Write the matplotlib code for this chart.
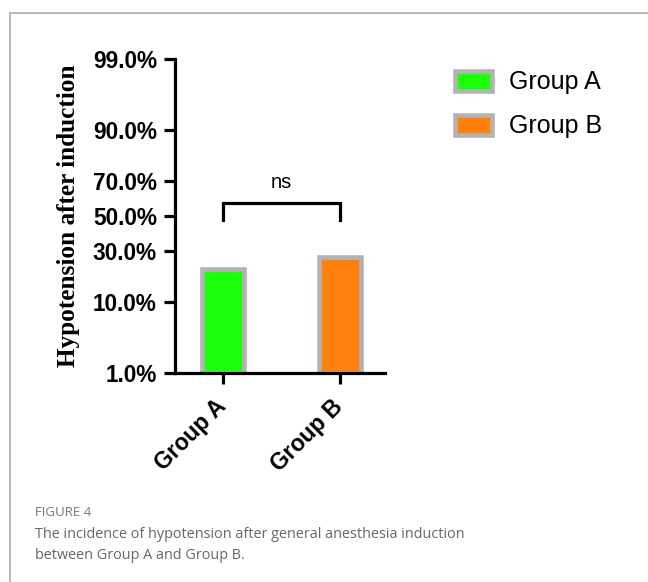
import math
import numpy as np
import matplotlib
matplotlib.use("Agg")
import matplotlib.pyplot as plt
from matplotlib.lines import Line2D

# data
groups = ["Group A", "Group B"]
incidence = [21.7, 27.3]          # percent
bar_colors = ["#1aff0a", "#ff800d"]
y_ticks = [1, 10, 30, 50, 70, 90, 99]

_erf = np.vectorize(math.erf, otypes=[float])


def cdf(z):
    z = np.asarray(z, dtype=float)
    return 50.0 * (1.0 + _erf(z / math.sqrt(2.0)))


def ppf(p):
    # probit of a percentage, by bisection on the normal cdf
    p = np.clip(np.asarray(p, dtype=float), 1e-6, 100 - 1e-6)
    lo = np.full(p.shape, -8.0)
    hi = np.full(p.shape, 8.0)
    for _ in range(60):
        mid = 0.5 * (lo + hi)
        below = cdf(mid) < p
        lo = np.where(below, mid, lo)
        hi = np.where(below, hi, mid)
    return 0.5 * (lo + hi)


fig = plt.figure(figsize=(6.48, 5.82), dpi=100)
ax = fig.add_axes([0.270, 0.3596, 0.324, 0.5385])
ax.set_yscale("function", functions=(ppf, cdf))

x = np.arange(len(groups))
bars = ax.bar(x, np.array(incidence) - 1, bottom=1, width=0.355,
              color=bar_colors, edgecolor="#b3b3b3", linewidth=3.3,
              label=groups)

ax.set_ylim(1, 99)
ax.set_xlim(-0.41, 1.385)
ax.set_yticks(y_ticks)
ax.set_yticklabels(["%.1f%%" % t for t in y_ticks])
ax.minorticks_off()
ax.set_xticks(x)
ax.set_xticklabels(groups, rotation=45, ha="right", va="center",
                   rotation_mode="anchor")

for lab in ax.get_yticklabels():
    lab.set_fontfamily("Liberation Sans")
    lab.set_fontweight("bold")
    lab.set_fontsize(16.3)
for lab in ax.get_xticklabels():
    lab.set_fontfamily("Liberation Sans")
    lab.set_fontweight("bold")
    lab.set_fontsize(16.5)

ax.tick_params(axis="both", width=2.3, length=8, pad=5, color="black")
ax.tick_params(axis="x", pad=14)
for s in ["top", "right"]:
    ax.spines[s].set_visible(False)
for s in ["left", "bottom"]:
    ax.spines[s].set_linewidth(2.3)

ax.set_ylabel("Hypotension after induction", fontfamily="Liberation Serif",
              fontweight="bold", fontsize=18.2, labelpad=9)

# significance bracket
ax.plot([0, 0, 1, 1], [47.6, 57.8, 57.8, 47.6], color="black", lw=2.3,
        solid_joinstyle="miter")
ax.text(0.5, 69.0, "ns", ha="center", va="center", fontsize=14.5,
        fontfamily="Liberation Sans")

# legend
fig.legend(handles=bars.patches, labels=groups, loc="upper left",
           bbox_to_anchor=(0.702, 0.879), frameon=False,
           prop={"family": "Liberation Sans", "size": 18},
           handlelength=1.5, handleheight=0.88, handletextpad=0.66,
           labelspacing=0.8, borderpad=0, borderaxespad=0)

# caption and frame
fig.text(35 / 648, 1 - 512 / 582, "FIGURE 4", fontfamily="Open Sans",
         fontsize=9.5, color="#777777", va="center")
fig.text(35 / 648, 1 - 545 / 582,
         "The incidence of hypotension after general anesthesia induction\n"
         "between Group A and Group B.", fontfamily="Open Sans",
         fontsize=10.4, color="#666666", va="center", linespacing=1.6)
fig.add_artist(Line2D([9.5 / 648, 9.5 / 648, 1], [0, 1 - 13 / 582, 1 - 13 / 582],
                      transform=fig.transFigure, color="#a9a9a9", lw=1.2))

fig.savefig("out.png", dpi=100)
